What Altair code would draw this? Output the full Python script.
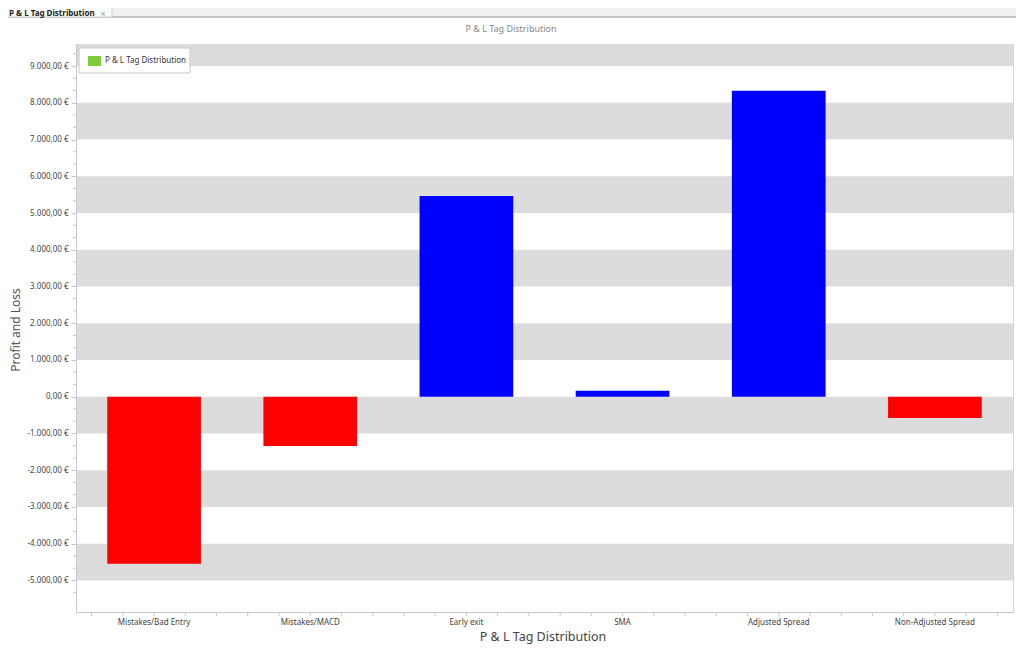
import altair as alt
import pandas as pd

# ---- data ----
categories = ["Mistakes/Bad Entry", "Mistakes/MACD", "Early exit", "SMA",
              "Adjusted Spread", "Non-Adjusted Spread"]
values = [-4550, -1340, 5465, 165, 8325, -580]
y_ticks = [-5000, -4000, -3000, -2000, -1000, 0, 1000, 2000, 3000,
           4000, 5000, 6000, 7000, 8000, 9000]
band_lo = [9000, 7000, 5000, 3000, 1000, -1000, -3000, -5000]
band_hi = [9600, 8000, 6000, 4000, 2000, 0, -2000, -4000]
y_domain = [-5860, 9600]
chart_title = "P & L Tag Distribution"
legend_label = "P & L Tag Distribution"
x_title = "P & L Tag Distribution"
y_title = "Profit and Loss"
tab_label = "P & L Tag Distribution"

W, H = 937, 568
FONT = "Noto Sans"

df = pd.DataFrame({"category": categories, "value": values})
strips = pd.DataFrame({"lo": band_lo, "hi": band_hi})
minor_y = pd.DataFrame({"v": [t + k * 1000 / 3 for t in y_ticks[:-1] for k in (1, 2)]
                        + [9000 + 1000 / 3, -5000 - 1000 / 3]})
minor_x = pd.DataFrame({"p": [i + 0.5 for i in range(30)]})

yscale = alt.Scale(domain=y_domain, nice=False, zero=False)
yaxis = alt.Axis(
    values=y_ticks,
    labelExpr="replace(replace(replace(replace(format(datum.value, ',.2f'), ',', '#'), '.', ','), '#', '.'), '\u2212', '-') + ' \u20ac'",
    title=None, grid=False, domainColor="#c8c8c8", tickColor="#c8c8c8",
    tickSize=5, labelFontSize=8, labelColor="#444444", labelFont=FONT,
    labelPadding=3, zindex=2,
)
xaxis = alt.Axis(
    title=None, ticks=False, labelAngle=0, labelFontSize=8,
    labelColor="#444444", labelFont=FONT, labelPadding=6,
    domainColor="#c8c8c8", grid=False, zindex=2,
)

one = alt.Data(values=[{}])

# app frame decorations
tabbar = alt.Chart(one).mark_rect(fill="#f0f0f0").encode(
    x=alt.value(-76), x2=alt.value(948), y=alt.value(-44), y2=alt.value(-27))
panel = alt.Chart(one).mark_rect(fill="white", fillOpacity=0, stroke="#c4c4c4", strokeWidth=2).encode(
    x=alt.value(-74), x2=alt.value(944), y=alt.value(-27), y2=alt.value(608))
tab = alt.Chart(one).mark_rect(fill="#fbfbfb", stroke="#d0d0d0", strokeWidth=1).encode(
    x=alt.value(-77), x2=alt.value(36), y=alt.value(-45), y2=alt.value(-27))
tab_text = alt.Chart(one).mark_text(
    font=FONT, fontSize=8, fontWeight="bold", color="#222222",
    align="left", baseline="alphabetic").encode(
    x=alt.value(-67), y=alt.value(-28), text=alt.value(tab_label))
tab_close = alt.Chart(one).mark_text(
    font=FONT, fontSize=9, color="#999999", align="center", baseline="middle").encode(
    x=alt.value(27), y=alt.value(-30.5), text=alt.value("\u00d7"))

# bands
bands = alt.Chart(strips).mark_rect(fill="#dcdcdc").encode(
    x=alt.value(0), x2=alt.value(W),
    y=alt.Y("lo:Q", scale=yscale, axis=yaxis), y2="hi:Q")

bars = alt.Chart(df).mark_bar().encode(
    x=alt.X("category:N", sort=categories, axis=xaxis,
            scale=alt.Scale(paddingInner=0.4, paddingOuter=0.2)),
    y=alt.Y("value:Q", scale=yscale, axis=yaxis),
    color=alt.condition(alt.datum.value < 0, alt.value("#ff0000"), alt.value("#0000ff")),
)

yminor = alt.Chart(minor_y).mark_rule(color="#c8c8c8").encode(
    y=alt.Y("v:Q", scale=yscale, axis=yaxis), x=alt.value(-3), x2=alt.value(0))

xminor = alt.Chart(minor_x).mark_rule(color="#c8c8c8").encode(
    x=alt.X("p:Q", scale=alt.Scale(domain=[0, 30], nice=False, zero=False), axis=None),
    y=alt.value(H), y2=alt.value(H + 4))

# legend
leg_box = alt.Chart(one).mark_rect(fill="white", stroke="#c8c8c8", strokeWidth=1).encode(
    x=alt.value(3), x2=alt.value(114), y=alt.value(4), y2=alt.value(29))
leg_sw = alt.Chart(one).mark_rect(fill="#7dcd3a").encode(
    x=alt.value(12), x2=alt.value(25), y=alt.value(12), y2=alt.value(22))
leg_txt = alt.Chart(one).mark_text(
    font=FONT, fontSize=8, color="#333333", align="left", baseline="middle").encode(
    x=alt.value(29), y=alt.value(17), text=alt.value(legend_label))

title_txt = alt.Chart(one).mark_text(
    font=FONT, fontSize=9, color="#888888", align="center", baseline="middle").encode(
    x=alt.value(435), y=alt.value(-15), text=alt.value(chart_title))
xtitle_txt = alt.Chart(one).mark_text(
    font=FONT, fontSize=12.5, color="#444444", align="center", baseline="middle").encode(
    x=alt.value(467), y=alt.value(593), text=alt.value(x_title))
ytitle_txt = alt.Chart(one).mark_text(
    font=FONT, fontSize=12, color="#555555", align="center", baseline="middle",
    angle=270).encode(
    x=alt.value(-60), y=alt.value(286), text=alt.value(y_title))

chart = alt.layer(
    tabbar, panel, tab, tab_text, tab_close,
    bands, bars, yminor, xminor,
    leg_box, leg_sw, leg_txt, title_txt, xtitle_txt, ytitle_txt,
).resolve_scale(x="independent").properties(
    width=W, height=H,
    autosize=alt.AutoSizeParams(type="none"),
    padding={"left": 68, "top": 36, "right": 3, "bottom": 34},
).configure_view(stroke="#d4d4d4", strokeWidth=1)

chart.save("out.html", embed_options={"renderer": "svg", "actions": False})
